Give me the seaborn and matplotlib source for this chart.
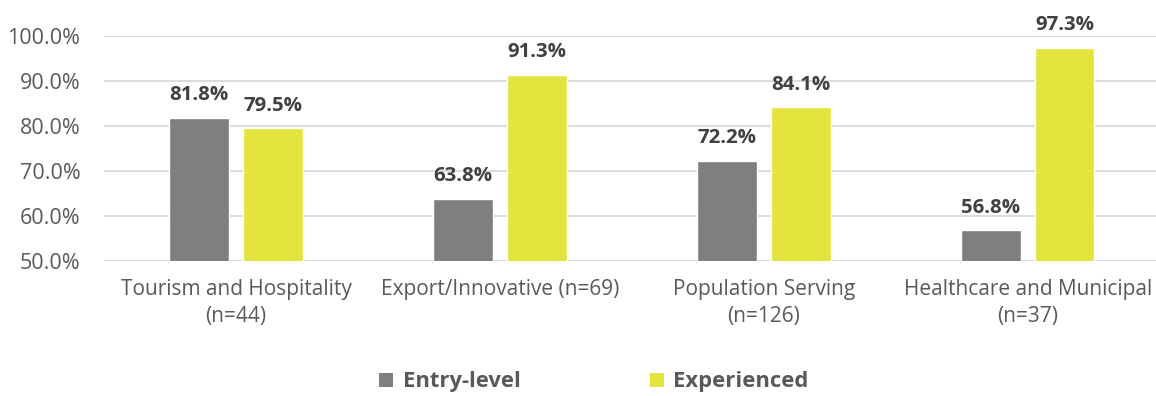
import matplotlib
matplotlib.use("Agg")
import matplotlib.pyplot as plt
from matplotlib.patches import Patch
import pandas as pd
import seaborn as sns

categories = ["Tourism and Hospitality\n(n=44)", "Export/Innovative (n=69)",
              "Population Serving\n(n=126)", "Healthcare and Municipal\n(n=37)"]
series_names = ["Entry-level", "Experienced"]
entry_level = [81.8, 63.8, 72.2, 56.8]
experienced = [79.5, 91.3, 84.1, 97.3]
y_ticks = [50, 60, 70, 80, 90, 100]

colors = {"Entry-level": "#7f7f7f", "Experienced": "#e4e43f"}

df = pd.DataFrame({
    "category": categories * 2,
    "series": [series_names[0]] * 4 + [series_names[1]] * 4,
    "value": entry_level + experienced,
})

sns.set_theme(style="white")
plt.rcParams["font.family"] = ["Open Sans", "DejaVu Sans"]

W, H = 1156, 396
fig = plt.figure(figsize=(W / 100, H / 100), dpi=100)
ax = fig.add_axes([104 / W, 1 - 261 / H, (W - 104) / W, (261 - 35.7) / H])

sns.barplot(data=df, x="category", y="value", hue="series", order=categories,
            hue_order=series_names, palette=colors, width=0.56, gap=0.2,
            ax=ax, legend=False, saturation=1)

ax.set_ylim(50, 100)
ax.set_xlim(-0.5, 3.485)
ax.set_yticks(y_ticks)
ax.set_yticklabels([f"{t:.1f}%" for t in y_ticks], fontsize=15.5, color="#595959")
ax.tick_params(axis="x", labelsize=15, labelcolor="#595959", length=0, pad=13)
ax.tick_params(axis="y", length=0, pad=17)
for lbl in ax.get_xticklabels():
    lbl.set_linespacing(1.4)
ax.set_xlabel("")
ax.set_ylabel("")
ax.yaxis.grid(True, color="#d9d9d9", linewidth=1.3)
ax.set_axisbelow(True)
for s in ax.spines.values():
    s.set_visible(False)

for container in ax.containers:
    labels = [f"{b.get_y() + b.get_height():.1f}%" for b in container]
    ax.bar_label(container, labels=labels, padding=9, fontsize=14.7,
                 fontweight="bold", color="#404040", clip_on=False)

handles = [Patch(facecolor=colors[n], edgecolor="none") for n in series_names]
leg = fig.legend(handles, series_names, loc="center", bbox_to_anchor=(594 / W, 1 - 382 / H),
                 ncol=2, frameon=False, handlelength=0.62, handleheight=0.62,
                 handletextpad=0.45, columnspacing=5.9,
                 prop={"weight": "bold", "size": 15.8})
for t in leg.get_texts():
    t.set_color("#595959")

fig.savefig("out.png", dpi=100)
